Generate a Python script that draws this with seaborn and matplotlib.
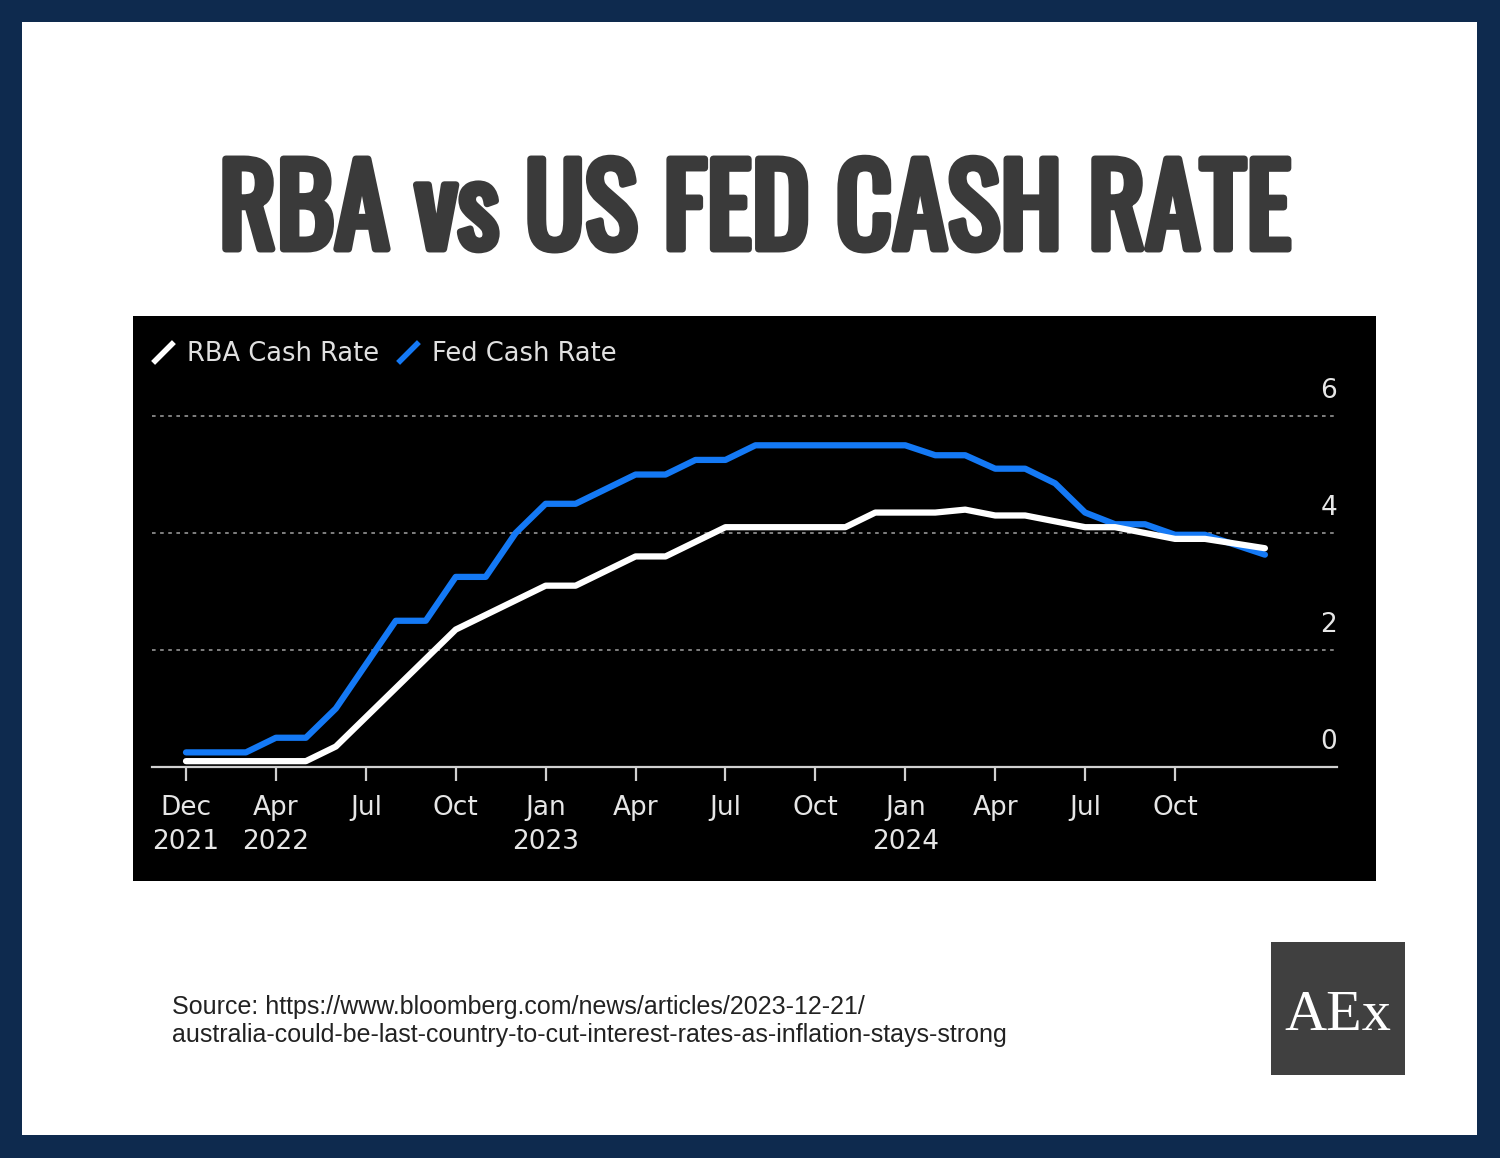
import matplotlib
matplotlib.use("Agg")
import matplotlib.pyplot as plt
import numpy as np
import pandas as pd
import seaborn as sns
from matplotlib.patches import Rectangle
from matplotlib.lines import Line2D
from matplotlib.path import Path
import matplotlib.patheffects as pe

# ---------------- data ----------------
month_index = list(range(37))
rba_rate = [0.10, 0.10, 0.10, 0.10, 0.10, 0.35, 0.85, 1.35, 1.85, 2.35,
            2.60, 2.85, 3.10, 3.10, 3.35, 3.60, 3.60, 3.85, 4.10, 4.10,
            4.10, 4.10, 4.10, 4.35, 4.35, 4.35, 4.40, 4.30, 4.30, 4.20,
            4.10, 4.10, 4.00, 3.90, 3.90, 3.82, 3.74]
fed_rate = [0.25, 0.25, 0.25, 0.50, 0.50, 1.00, 1.75, 2.50, 2.50, 3.25,
            3.25, 4.00, 4.50, 4.50, 4.75, 5.00, 5.00, 5.25, 5.25, 5.50,
            5.50, 5.50, 5.50, 5.50, 5.50, 5.33, 5.33, 5.10, 5.10, 4.85,
            4.35, 4.15, 4.15, 3.97, 3.97, 3.80, 3.63]
tick_positions = [0, 3, 6, 9, 12, 15, 18, 21, 24, 27, 30, 33]
tick_labels = ["Dec\n2021", "Apr\n2022", "Jul", "Oct", "Jan\n2023", "Apr",
               "Jul", "Oct", "Jan\n2024", "Apr", "Jul", "Oct"]
y_ticks = [0, 2, 4, 6]
series_names = ["RBA Cash Rate", "Fed Cash Rate"]
series_colors = {"RBA Cash Rate": "#ffffff", "Fed Cash Rate": "#1479f5"}

title_text = "RBA vs US FED CASH RATE"
source_text = ("Source: https://www.bloomberg.com/news/articles/2023-12-21/\n"
               "australia-could-be-last-country-to-cut-interest-rates-as-inflation-stays-strong")

df = pd.DataFrame({
    "month": month_index + month_index,
    "rate": fed_rate + rba_rate,
    "series": ["Fed Cash Rate"] * len(fed_rate) + ["RBA Cash Rate"] * len(rba_rate),
})

# ---------------- style ----------------
sns.set_theme(style="dark")
plt.rcParams["font.family"] = ["DejaVu Sans"]

W, H = 1500, 1158
fig = plt.figure(figsize=(W / 100, H / 100), dpi=100)
fig.patch.set_facecolor("#0e2a4e")

def fx(px):
    return px / W

def fy(py):
    return 1 - py / H

# white card
fig.patches.append(Rectangle((fx(22), fy(1135)), fx(1455), 1113 / H,
                             transform=fig.transFigure, facecolor="white",
                             edgecolor="none", zorder=0))
# black chart panel
fig.patches.append(Rectangle((fx(133), fy(881)), fx(1243), 565 / H,
                             transform=fig.transFigure, facecolor="black",
                             edgecolor="none", zorder=1))
# logo box
fig.patches.append(Rectangle((fx(1271), fy(1075)), fx(134), 133 / H,
                             transform=fig.transFigure, facecolor="#404040",
                             edgecolor="none", zorder=1))

ax = fig.add_axes([fx(152), fy(767), fx(1185), 368.5 / H])
ax.set_facecolor("none")
ax.set_zorder(2)

sns.lineplot(data=df, x="month", y="rate", hue="series",
             hue_order=["Fed Cash Rate", "RBA Cash Rate"],
             palette=series_colors, linewidth=4.5, ax=ax, legend=False)

ax.set_xlim((152 - 186) / 29.97, (1337 - 186) / 29.97)
ax.set_ylim(0, 6.3)
ax.set_xlabel("")
ax.set_ylabel("")

for s in ["top", "left", "right"]:
    ax.spines[s].set_visible(False)
ax.spines["bottom"].set_color("#d0d0d0")
ax.spines["bottom"].set_linewidth(1.6)

ax.set_xticks(tick_positions, tick_labels)
ax.tick_params(axis="x", length=10, width=1.6, color="#d0d0d0",
               labelcolor="#e6e6e6", labelsize=19, pad=10, bottom=True)
for lab in ax.get_xticklabels():
    lab.set_linespacing(1.4)

ax.set_yticks(y_ticks)
ax.set_yticklabels([])
ax.tick_params(axis="y", length=0, left=False, right=False)
ax.grid(axis="y", color="#8a8a8a", linestyle=(0, (2, 2.5)), linewidth=1.3)
ax.grid(axis="x", visible=False)
for v in y_ticks:
    ax.annotate(str(v), xy=(1, v), xycoords=("axes fraction", "data"),
                xytext=(0, 25), textcoords="offset pixels",
                ha="right", va="center", fontsize=19, color="#e6e6e6")

# legend with slash markers
slash = Path([(-1, -1), (1, 1)])
handles = [Line2D([], [], color=series_colors[n], marker=slash, markersize=15,
                  markeredgewidth=4, linestyle="none") for n in series_names]
fig.legend(handles, series_names, loc="center left",
           bbox_to_anchor=(fx(150), fy(354)), ncol=2, frameon=False,
           fontsize=18.5, labelcolor="#e0e0e0", handletextpad=0.45,
           columnspacing=0.6, handlelength=1.0, borderaxespad=0, borderpad=0)

# title
fig.text(fx(755), fy(249), title_text, ha="center", va="baseline",
         fontsize=80, color="#3a3a3a", family=["Oswald", "DejaVu Sans"],
         path_effects=[pe.withStroke(linewidth=5, foreground="#3a3a3a")])

# source
fig.text(fx(172), fy(1042), source_text, ha="left", va="baseline", fontsize=18,
         color="#222222", family=["Liberation Sans", "DejaVu Sans"],
         linespacing=1.2)

# logo text
fig.text(fx(1338), fy(1030), "AEx", ha="center", va="baseline", fontsize=42,
         color="white", family=["Liberation Serif", "DejaVu Serif"])

fig.savefig("out.png", dpi=100, facecolor=fig.get_facecolor())
